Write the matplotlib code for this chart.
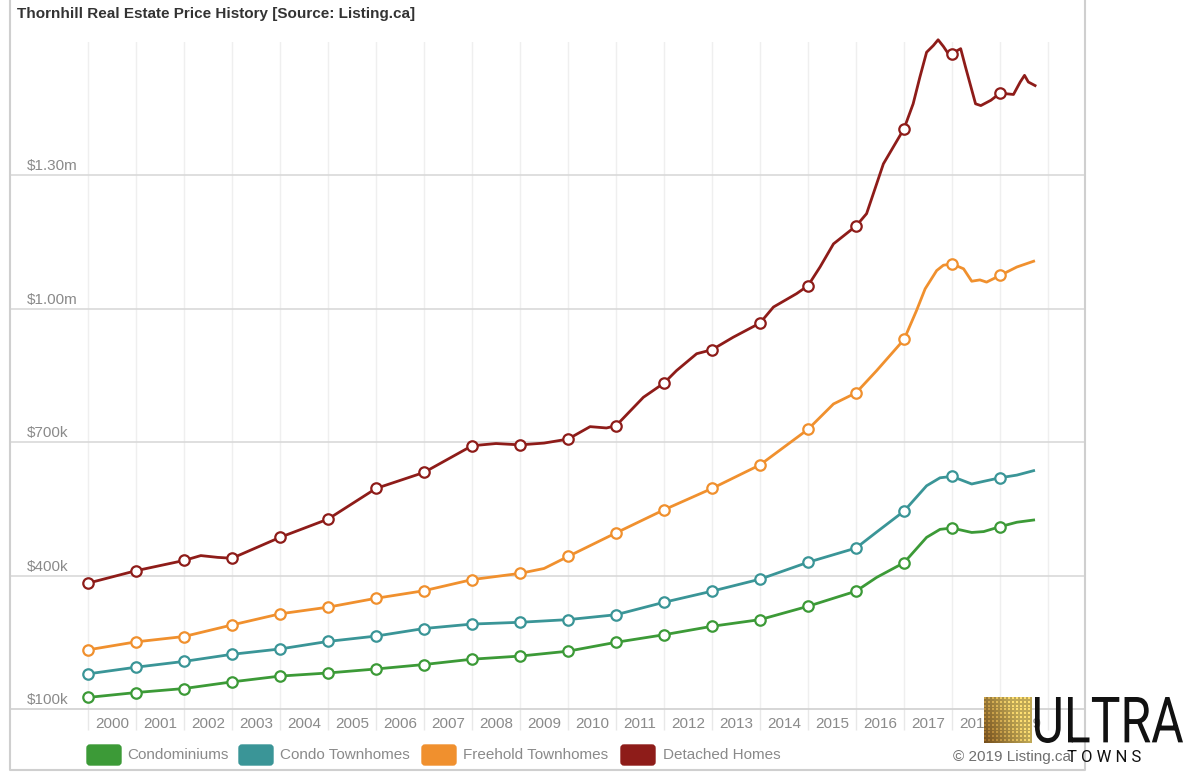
import numpy as np
import matplotlib.pyplot as plt
from matplotlib.patches import FancyBboxPatch, PathPatch
from matplotlib.textpath import TextPath
from matplotlib.font_manager import FontProperties
from matplotlib.transforms import Affine2D, offset_copy

plt.rcParams['font.family'] = ['Liberation Sans', 'DejaVu Sans']

# --- data (thousands of $), markers sit on the January points ---
detached_x = [2000, 2001, 2002, 2002.35, 2002.7, 2003, 2004, 2005, 2006, 2007,
              2008, 2008.5, 2009, 2009.5, 2010, 2010.46, 2010.8, 2011, 2011.57, 2012,
              2012.26, 2012.68, 2013, 2013.44, 2014, 2014.28, 2014.76, 2015, 2015.25, 2015.53,
              2015.88, 2016, 2016.22, 2016.57, 2017, 2017.19, 2017.33, 2017.47, 2017.61, 2017.71,
              2017.82, 2017.92, 2018, 2018.18, 2018.28, 2018.49, 2018.6, 2018.81, 2019, 2019.28,
              2019.42, 2019.51, 2019.59, 2019.73]
detached_y = [383, 411, 434, 445, 441, 439, 486, 527, 596, 632,
              692, 697, 694, 698, 707, 735, 732, 737, 801, 833,
              861, 899, 908, 936, 968, 1004, 1034, 1052, 1094, 1146,
              1176, 1186, 1214, 1326, 1405, 1461, 1521, 1577, 1592, 1605,
              1590, 1574, 1574, 1585, 1544, 1461, 1457, 1469, 1485, 1482,
              1510, 1525, 1510, 1502]

freehold_x = [2000, 2001, 2002, 2003, 2004, 2005, 2006, 2007, 2008, 2009,
              2009.5, 2010, 2011, 2012, 2013, 2014, 2015, 2015.53, 2016, 2016.43,
              2017, 2017.26, 2017.44, 2017.68, 2017.82, 2018, 2018.24, 2018.41, 2018.58, 2018.72,
              2019, 2019.35, 2019.7]
freehold_y = [233, 251, 263, 289, 314, 329, 349, 366, 391, 405,
              416, 443, 496, 548, 596, 649, 729, 786, 811, 861,
              931, 996, 1045, 1086, 1098, 1101, 1090, 1062, 1065, 1060,
              1075, 1094, 1107]

condo_th_x = [2000, 2001, 2002, 2003, 2004, 2005, 2006, 2007, 2008, 2009,
              2010, 2011, 2012, 2013, 2014, 2015, 2016, 2016.43, 2017, 2017.47,
              2017.75, 2018, 2018.41, 2018.66, 2019, 2019.35, 2019.7]
condo_th_y = [179, 194, 207, 223, 235, 252, 264, 281, 291, 295,
              301, 312, 340, 365, 392, 430, 462, 498, 545, 602,
              620, 623, 606, 612, 620, 626, 636]

condo_x = [2000, 2001, 2002, 2003, 2004, 2005, 2006, 2007, 2008, 2009,
           2010, 2011, 2012, 2013, 2014, 2015, 2016, 2016.43, 2017, 2017.47,
           2017.75, 2018, 2018.41, 2018.66, 2019, 2019.35, 2019.7]
condo_y = [126, 137, 146, 161, 174, 181, 190, 200, 212, 219,
           230, 250, 267, 286, 301, 331, 365, 396, 429, 486,
           504, 507, 497, 499, 510, 520, 525]

names = ['Condominiums', 'Condo Townhomes', 'Freehold Townhomes', 'Detached Homes']
colors = ['#3c9a37', '#3a9597', '#f0902e', '#8e1c19']
y_ticks = [100, 400, 700, 1000, 1300]
y_labels = ['$100k', '$400k', '$700k', '$1.00m', '$1.30m']
years = list(range(2000, 2020))

series = [(condo_x, condo_y), (condo_th_x, condo_th_y),
          (freehold_x, freehold_y), (detached_x, detached_y)]

W, H = 1200, 778
fig = plt.figure(figsize=(12, 7.78), dpi=100)
ax = fig.add_axes([10 / W, (H - 709) / H, 1075 / W, (709 - 42) / H])
ax.set_xlim(1998.375, 2020.77)
ax.set_ylim(100, 1600)

for (xs, ys), c in zip(series, colors):
    marks = [i for i, t in enumerate(xs) if float(t).is_integer()]
    ax.plot(xs, ys, color=c, lw=2, marker='o', markevery=marks, ms=7.5,
            mfc='white', mec=c, mew=1.6, clip_on=False, zorder=3)

# axes styling
ax.set_xticks(range(2000, 2021))
ax.set_xticklabels([])
ax.set_xticks([y + 0.5 for y in years], minor=True)
ax.set_xticklabels([str(y) for y in years], minor=True)
ax.tick_params(axis='x', which='major', length=15, color='#e8e8e8', width=1)
ax.tick_params(axis='x', which='minor', length=0, pad=6, labelsize=11, labelcolor='#8a8a8a')
ax.grid(axis='x', which='major', color='#efefef', lw=1)
ax.set_yticks(y_ticks[1:])
ax.tick_params(axis='y', length=0, labelleft=False)
ax.grid(axis='y', color='#d9d9d9', lw=1.2)
ax.set_axisbelow(True)
for s in ['left', 'top', 'right']:
    ax.spines[s].set_visible(False)
ax.spines['bottom'].set_color('#d0d0d0')
ax.spines['bottom'].set_linewidth(1.2)

ytrans = offset_copy(ax.get_yaxis_transform(), fig=fig, x=17, y=5, units='dots')
for v, lab in zip(y_ticks, y_labels):
    ax.text(0, v, lab, transform=ytrans, fontsize=11, color='#8a8a8a', va='baseline', ha='left')

# overlay in pixel coordinates for title, frame, legend, logo
ov = fig.add_axes([0, 0, 1, 1])
ov.set_xlim(0, W)
ov.set_ylim(H, 0)
ov.axis('off')

ov.text(17, 14, 'Thornhill Real Estate Price History [Source: Listing.ca]',
        fontsize=11, fontweight='bold', color='#333333', va='center')
ov.plot([10, 10, 1085, 1085], [0, 770, 770, 0], color='#cfcfcf', lw=1.5)

for name, c, sx, tx in zip(names, colors, [87, 239, 422, 621], [127, 280, 463, 663]):
    ov.add_patch(FancyBboxPatch((sx, 745), 34, 20, boxstyle='round,pad=0,rounding_size=3',
                                fc=c, ec=c, lw=1))
    ov.text(tx, 755, name, fontsize=11, color='#8a8a8a', va='center')

ov.text(953, 757, '\u00a9 2019 Listing.ca', fontsize=11, color='#6f6f6f', va='center')

# ULTRA TOWNS logo
n = 24
yy, xx = np.mgrid[0:n, 0:n] / (n - 1)
glow = np.clip(0.3 + 0.7 * xx + 0.3 * (1 - yy), 0, 1)
dark = np.array([0.45, 0.22, 0.03])
bright = np.array([1.0, 0.88, 0.45])
img = dark + (bright - dark) * glow[..., None]
grid = ((np.arange(n) % 2)[:, None] | (np.arange(n) % 2)[None, :]).astype(bool)
img[grid] *= 0.75
ov.imshow(img, extent=[984, 1032, 743, 697], origin='upper', interpolation='nearest', zorder=5)
ov.set_xlim(0, W)
ov.set_ylim(H, 0)
ov.set_aspect('auto')

fp = FontProperties(family=['Roboto', 'DejaVu Sans'], weight='normal')
tp = TextPath((0, 0), 'ULTRA', size=100, prop=fp)
ext = tp.get_extents()
sx = 148 / ext.width
sy = 46 / ext.height
tr = Affine2D().translate(-ext.x0, -ext.y0).scale(sx, -sy).translate(1035, 743)
ov.add_patch(PathPatch(tr.transform_path(tp), fc='#111111', ec='none', zorder=6))
ov.text(1067, 757, 'T O W N S', fontsize=12, color='#111111', va='center',
        family=['Roboto', 'DejaVu Sans'], zorder=6)

fig.savefig('out.png', dpi=100, facecolor='white')
